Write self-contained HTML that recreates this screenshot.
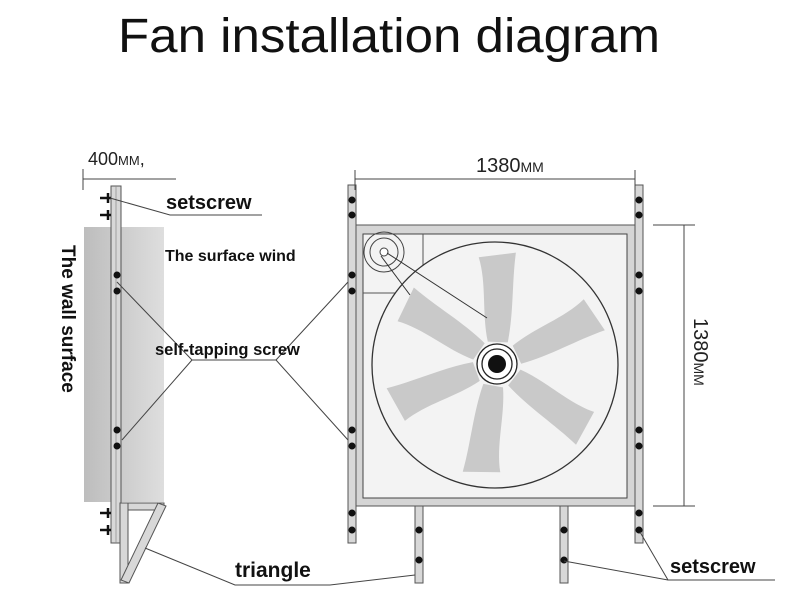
<!DOCTYPE html>
<html><head><meta charset="utf-8"><style>html,body{margin:0;padding:0;background:#fff;}svg{display:block}</style></head>
<body>
<svg width="800" height="600" viewBox="0 0 800 600" xmlns="http://www.w3.org/2000/svg" font-family="Liberation Sans, sans-serif">
<defs>
<linearGradient id="wall" x1="0" x2="1"><stop offset="0" stop-color="#bdbdbd"/><stop offset="1" stop-color="#dedede"/></linearGradient>
<g id="blade"><path d="M22,-10 C50,-17 80,-13 106,-22 L112,15 C82,12 52,15 22,10 Z" fill="#c9c9c9"/></g>
</defs>
<text x="118" y="52" font-size="48" textLength="542" lengthAdjust="spacingAndGlyphs" fill="#111">Fan installation diagram</text>

<!-- left side view -->
<rect x="84" y="227" width="80" height="275" fill="url(#wall)"/>
<text x="88" y="165" font-size="18" fill="#222">400<tspan font-size="13">MM</tspan>,</text>
<line x1="83" y1="179" x2="176" y2="179" stroke="#444" stroke-width="1"/>
<line x1="83" y1="169" x2="83" y2="190" stroke="#444" stroke-width="1"/>
<rect x="111" y="186" width="10" height="357" fill="#d8d8d8" stroke="#555" stroke-width="1"/>
<line x1="116" y1="186" x2="116" y2="543" stroke="#888" stroke-width="0.7"/>
<g stroke="#111" stroke-width="2.5">
<line x1="100" y1="198" x2="111" y2="198"/><line x1="108" y1="193" x2="108" y2="203"/>
<line x1="100" y1="215" x2="111" y2="215"/><line x1="108" y1="210" x2="108" y2="220"/>
<line x1="100" y1="513" x2="111" y2="513"/><line x1="108" y1="508" x2="108" y2="518"/>
<line x1="100" y1="530" x2="111" y2="530"/><line x1="108" y1="525" x2="108" y2="535"/>
</g>
<g fill="#111"><circle cx="117" cy="275" r="3.5"/><circle cx="117" cy="291" r="3.5"/><circle cx="117" cy="430" r="3.5"/><circle cx="117" cy="446" r="3.5"/></g>
<g fill="#d8d8d8" stroke="#555" stroke-width="1">
<rect x="121" y="503" width="43" height="7"/>
<rect x="120" y="503" width="8" height="80"/>
<polygon points="158,503 166,506 129,583 121,580"/>
</g>
<text transform="translate(62,245) rotate(90)" font-size="19" font-weight="bold" fill="#111">The wall surface</text>

<!-- front view -->
<rect x="355" y="225" width="280" height="281" fill="#d5d5d5" stroke="#555" stroke-width="1"/>
<rect x="363" y="234" width="264" height="264" fill="#f3f3f3" stroke="#444" stroke-width="1"/>
<line x1="423" y1="234" x2="423" y2="293" stroke="#555"/>
<line x1="363" y1="293" x2="423" y2="293" stroke="#555"/>
<circle cx="384" cy="252" r="20" fill="none" stroke="#444"/>
<circle cx="384" cy="252" r="14" fill="none" stroke="#444"/>
<circle cx="384" cy="252" r="4" fill="#fff" stroke="#444"/>
<circle cx="495" cy="365" r="123" fill="#f3f3f3" stroke="#333" stroke-width="1.3"/>
<g transform="translate(497,364)">
<use href="#blade" transform="rotate(-88)"/>
<use href="#blade" transform="rotate(-25)"/>
<use href="#blade" transform="rotate(38)"/>
<use href="#blade" transform="rotate(100)"/>
<use href="#blade" transform="rotate(160)"/>
<use href="#blade" transform="rotate(-145)"/>
</g>
<line x1="387" y1="253" x2="487" y2="318" stroke="#333"/>
<line x1="381" y1="256" x2="410" y2="295" stroke="#333"/>
<circle cx="497" cy="364" r="20" fill="#fff" stroke="#222" stroke-width="1.3"/>
<circle cx="497" cy="364" r="15" fill="none" stroke="#222" stroke-width="1.3"/>
<circle cx="497" cy="364" r="9" fill="#111"/>
<g fill="#d8d8d8" stroke="#555" stroke-width="1">
<rect x="348" y="185" width="8" height="358"/>
<rect x="635" y="185" width="8" height="358"/>
<rect x="415" y="506" width="8" height="77"/>
<rect x="560" y="506" width="8" height="77"/>
</g>
<g fill="#111">
<circle cx="352" cy="200" r="3.5"/><circle cx="352" cy="215" r="3.5"/><circle cx="352" cy="275" r="3.5"/><circle cx="352" cy="291" r="3.5"/><circle cx="352" cy="430" r="3.5"/><circle cx="352" cy="446" r="3.5"/><circle cx="352" cy="513" r="3.5"/><circle cx="352" cy="530" r="3.5"/>
<circle cx="639" cy="200" r="3.5"/><circle cx="639" cy="215" r="3.5"/><circle cx="639" cy="275" r="3.5"/><circle cx="639" cy="291" r="3.5"/><circle cx="639" cy="430" r="3.5"/><circle cx="639" cy="446" r="3.5"/><circle cx="639" cy="513" r="3.5"/><circle cx="639" cy="530" r="3.5"/>
<circle cx="419" cy="530" r="3.5"/><circle cx="419" cy="560" r="3.5"/><circle cx="564" cy="530" r="3.5"/><circle cx="564" cy="560" r="3.5"/>
</g>
<line x1="355" y1="179" x2="635" y2="179" stroke="#444"/>
<line x1="355" y1="170" x2="355" y2="190" stroke="#444"/>
<line x1="635" y1="170" x2="635" y2="190" stroke="#444"/>
<text x="476" y="172" font-size="20" fill="#222">1380<tspan font-size="14">MM</tspan></text>
<line x1="684" y1="225" x2="684" y2="506" stroke="#444"/>
<line x1="653" y1="225" x2="695" y2="225" stroke="#444"/>
<line x1="653" y1="506" x2="695" y2="506" stroke="#444"/>
<text transform="translate(694,318) rotate(90)" font-size="20" fill="#222">1380<tspan font-size="14">MM</tspan></text>

<g stroke="#444" stroke-width="1" fill="none">
<polyline points="110,198 170,215 262,215"/>
<polyline points="117,282 192,360 276,360 348,282"/>
<polyline points="122,440 192,360"/>
<polyline points="276,360 348,440"/>
<polyline points="145,548 235,585 330,585 415,575"/>
<polyline points="640,532 668,580 775,580"/>
<polyline points="564,561 668,580"/>
</g>
<g font-weight="bold" fill="#111">
<text x="166" y="209" font-size="20">setscrew</text>
<text x="165" y="261" font-size="16">The surface wind</text>
<text x="155" y="355" font-size="16.5">self-tapping screw</text>
<text x="235" y="577" font-size="21">triangle</text>
<text x="670" y="573" font-size="20">setscrew</text>
</g>
</svg>
</body></html>
